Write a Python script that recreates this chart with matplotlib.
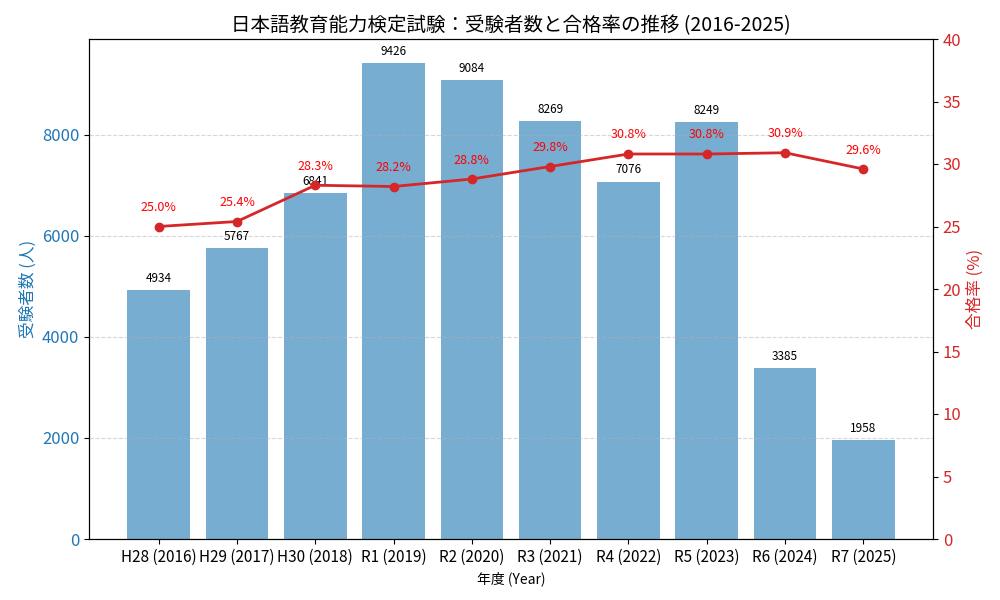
import numpy as np
import matplotlib
matplotlib.use("Agg")
import matplotlib.pyplot as plt

plt.rcParams['font.family'] = ['Noto Sans CJK JP', 'DejaVu Sans']

years = ["H28 (2016)", "H29 (2017)", "H30 (2018)", "R1 (2019)", "R2 (2020)",
         "R3 (2021)", "R4 (2022)", "R5 (2023)", "R6 (2024)", "R7 (2025)"]
examinees = [4934, 5767, 6841, 9426, 9084, 8269, 7076, 8249, 3385, 1958]
pass_rate = [25.0, 25.4, 28.3, 28.2, 28.8, 29.8, 30.8, 30.8, 30.9, 29.6]

x = np.arange(len(years))

fig, ax1 = plt.subplots(figsize=(10, 6), dpi=100)

bars = ax1.bar(x, examinees, color='tab:blue', alpha=0.6, width=0.8)
ax1.set_xlabel("年度 (Year)")
ax1.set_ylabel("受験者数 (人)", color='tab:blue', fontsize=12)
ax1.tick_params(axis='y', labelcolor='tab:blue', labelsize=12)
ax1.tick_params(axis='x', labelsize=11)
ax1.set_xticks(x)
ax1.set_xticklabels(years)
ax1.set_ylim(0, max(examinees) * 1.05)
ax1.grid(axis='y', linestyle='--', alpha=0.5)

for xi, v in zip(x, examinees):
    ax1.text(xi, v + 100, str(v), ha='center', va='bottom', fontsize=8.5)

ax2 = ax1.twinx()
ax2.plot(x, pass_rate, color='tab:red', marker='o', linewidth=2)
ax2.set_ylabel("合格率 (%)", color='tab:red', fontsize=12)
ax2.tick_params(axis='y', labelcolor='tab:red', labelsize=12)
ax2.set_ylim(0, 40)

for xi, r in zip(x, pass_rate):
    ax2.text(xi, r + 1, f"{r:.1f}%", ha='center', va='bottom', fontsize=9, color='red')

plt.title("日本語教育能力検定試験：受験者数と合格率の推移 (2016-2025)", fontsize=14)
fig.subplots_adjust(left=0.089, right=0.933, top=1 - 39 / 600, bottom=1 - 539 / 600)
plt.savefig("out.png")
